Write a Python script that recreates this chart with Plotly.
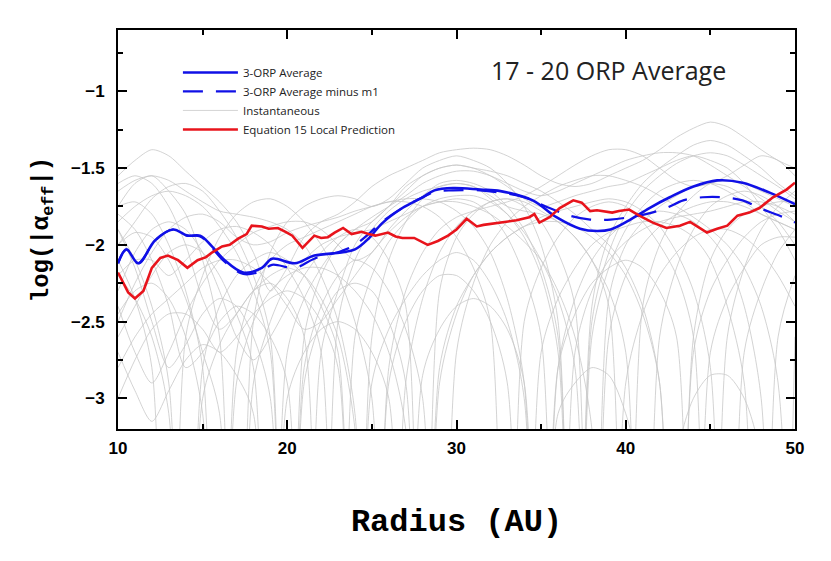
import plotly.graph_objects as go

# --- Data ---
RADIUS_GRID = list(range(10, 51))  # AU, shared grid of the instantaneous curves

# Instantaneous log|alpha_eff| curves (the -6 values are the sign-change cusps)
INST_1 = [-1.55, -1.45, -1.38, -1.42, -1.52, -1.62, -1.72, -1.85, -2.05, -2.3, -2.15, -1.95, -1.85, -1.8, -1.72, -1.62, -1.55, -1.5, -1.45, -1.4, -1.38, -1.37, -1.38, -1.42, -1.48, -1.55, -1.6, -1.62, -1.6, -1.55, -1.5, -1.45, -1.38, -1.3, -1.24, -1.2, -1.23, -1.3, -1.38, -1.45, -1.5]
INST_2 = [-1.75, -1.6, -1.55, -1.65, -1.8, -2.1, -2.6, -6, -2.5, -2.05, -1.85, -1.75, -1.7, -1.68, -1.7, -1.75, -1.7, -1.6, -1.5, -1.45, -1.42, -1.45, -1.5, -1.6, -1.75, -2.0, -2.5, -6, -2.4, -1.95, -1.75, -1.6, -1.5, -1.42, -1.35, -1.32, -1.35, -1.42, -1.5, -1.6, -1.68]
INST_3 = [-2.0, -1.85, -1.7, -1.62, -1.6, -1.65, -1.78, -1.95, -2.2, -2.6, -6, -2.6, -2.2, -2.0, -1.9, -1.85, -1.75, -1.65, -1.55, -1.5, -1.48, -1.5, -1.55, -1.62, -1.7, -1.75, -1.72, -1.68, -1.65, -1.62, -1.6, -1.55, -1.5, -1.45, -1.42, -1.45, -1.5, -1.6, -1.75, -1.9, -2.1]
INST_4 = [-1.9, -2.1, -2.4, -2.9, -6, -2.8, -2.4, -2.2, -2.1, -2.05, -2.1, -2.2, -2.4, -2.7, -6, -2.6, -2.1, -1.85, -1.7, -1.62, -1.6, -1.62, -1.7, -1.8, -1.95, -2.2, -2.7, -6, -2.6, -2.15, -1.9, -1.75, -1.65, -1.6, -1.58, -1.6, -1.65, -1.72, -1.8, -1.85, -1.9]
INST_5 = [-2.3, -2.05, -1.9, -1.85, -1.9, -2.05, -2.3, -2.6, -2.75, -2.6, -2.4, -2.2, -2.05, -1.95, -1.9, -1.95, -2.1, -2.4, -6, -2.3, -1.95, -1.8, -1.72, -1.7, -1.75, -1.85, -2.05, -2.4, -6, -2.35, -2.0, -1.85, -1.75, -1.68, -1.62, -1.6, -1.62, -1.68, -1.75, -1.85, -2.0]
INST_6 = [-1.6, -1.55, -1.6, -1.75, -2.0, -2.35, -2.55, -2.45, -2.3, -2.25, -2.35, -2.6, -6, -2.5, -2.1, -1.9, -1.78, -1.7, -1.65, -1.62, -1.6, -1.62, -1.68, -1.75, -1.78, -1.8, -1.85, -1.95, -2.1, -2.4, -6, -2.4, -2.0, -1.8, -1.68, -1.6, -1.58, -1.6, -1.65, -1.7, -1.75]
INST_7 = [-2.6, -2.4, -2.2, -2.05, -2.0, -2.05, -2.2, -2.45, -2.8, -6, -2.7, -2.35, -2.15, -2.0, -1.9, -1.82, -1.75, -1.68, -1.6, -1.55, -1.52, -1.52, -1.55, -1.6, -1.65, -1.68, -1.65, -1.6, -1.55, -1.5, -1.45, -1.42, -1.4, -1.4, -1.42, -1.48, -1.55, -1.62, -1.7, -1.78, -1.85]
INST_8 = [-1.8, -1.9, -2.1, -2.4, -2.8, -2.7, -2.5, -2.4, -2.45, -2.6, -2.9, -6, -2.7, -2.3, -2.0, -1.85, -1.75, -1.62, -1.55, -1.5, -1.48, -1.5, -1.52, -1.55, -1.6, -1.65, -1.72, -1.8, -1.9, -2.0, -2.15, -2.4, -2.9, -6, -2.6, -2.1, -1.9, -1.8, -1.75, -1.72, -1.72]
INST_9 = [-2.1, -2.35, -2.8, -6, -2.6, -2.2, -1.95, -1.8, -1.72, -1.7, -1.75, -1.85, -2.0, -2.2, -2.5, -3.0, -6, -2.9, -2.35, -2.05, -1.88, -1.78, -1.72, -1.7, -1.72, -1.78, -1.85, -1.95, -2.1, -2.3, -2.7, -6, -2.6, -2.15, -1.9, -1.75, -1.68, -1.65, -1.68, -1.75, -1.85]
INST_10 = [-2.4, -2.7, -2.9, -2.7, -2.45, -2.25, -2.1, -2.0, -1.92, -1.88, -1.85, -1.85, -1.9, -2.0, -2.1, -2.05, -1.9, -1.78, -1.68, -1.6, -1.58, -1.6, -1.65, -1.75, -1.9, -2.15, -2.6, -6, -2.5, -2.05, -1.8, -1.65, -1.55, -1.47, -1.42, -1.4, -1.42, -1.48, -1.55, -1.62, -1.7]
INST_11 = [-1.75, -1.72, -1.8, -2.0, -2.3, -2.8, -6, -2.7, -2.3, -2.1, -2.0, -1.95, -1.9, -1.85, -1.8, -1.75, -1.72, -1.72, -1.75, -1.82, -1.95, -2.15, -2.5, -6, -2.5, -2.15, -1.95, -1.82, -1.75, -1.72, -1.75, -1.85, -2.0, -2.2, -2.6, -6, -2.6, -2.15, -1.9, -1.75, -1.65]
INST_12 = [-2.8, -2.6, -2.45, -2.35, -2.25, -2.15, -2.1, -2.1, -2.15, -2.25, -2.4, -2.55, -2.5, -2.35, -2.2, -2.05, -1.92, -1.82, -1.75, -1.72, -1.72, -1.75, -1.8, -1.88, -1.98, -2.1, -2.3, -2.6, -3.2, -6, -2.9, -2.45, -2.2, -2.05, -1.95, -1.9, -1.9, -1.95, -2.05, -2.2, -2.4]
INST_13 = [-2.0, -1.92, -1.95, -2.1, -2.35, -2.7, -3.1, -6, -2.9, -2.5, -2.25, -2.1, -2.0, -1.95, -1.92, -1.9, -1.85, -1.8, -1.75, -1.72, -1.7, -1.72, -1.8, -1.95, -2.2, -2.6, -6, -2.7, -2.3, -2.1, -1.98, -1.9, -1.85, -1.82, -1.8, -1.78, -1.75, -1.72, -1.72, -1.75, -1.8]
INST_14 = [-3.0, -2.75, -2.55, -2.45, -2.45, -2.55, -2.7, -2.6, -2.45, -2.35, -2.3, -2.35, -2.5, -2.8, -6, -2.9, -2.55, -2.35, -2.2, -2.1, -2.05, -2.1, -2.25, -2.5, -3.0, -6, -2.8, -2.45, -2.25, -2.15, -2.1, -2.15, -2.3, -2.6, -6, -2.7, -2.35, -2.15, -2.0, -1.95, -1.95]
INST_15 = [-2.2, -2.1, -2.1, -2.2, -2.1, -1.98, -1.9, -1.88, -1.92, -2.0, -2.15, -2.35, -2.7, -6, -2.6, -2.2, -1.98, -1.85, -1.75, -1.7, -1.68, -1.68, -1.72, -1.8, -1.92, -2.1, -2.35, -2.8, -6, -2.6, -2.2, -2.0, -1.88, -1.8, -1.75, -1.72, -1.72, -1.75, -1.8, -1.85, -1.9]
INST_16 = [-1.9, -2.15, -2.5, -2.8, -2.65, -2.45, -2.35, -2.4, -2.6, -3.0, -6, -2.9, -2.5, -2.3, -2.25, -2.3, -2.5, -2.9, -6, -2.8, -2.4, -2.2, -2.05, -1.95, -1.88, -1.82, -1.78, -1.75, -1.72, -1.7, -1.72, -1.78, -1.88, -2.05, -2.3, -2.8, -6, -2.7, -2.3, -2.05, -1.9]
INST_17 = [-2.5, -2.25, -2.05, -1.9, -1.82, -1.8, -1.85, -1.95, -2.0, -1.98, -1.92, -1.88, -1.85, -1.82, -1.78, -1.75, -1.72, -1.7, -1.7, -1.72, -1.78, -1.88, -2.05, -2.35, -2.9, -6, -2.8, -2.35, -2.1, -1.95, -1.85, -1.8, -1.78, -1.8, -1.85, -1.95, -2.1, -2.4, -3.0, -6, -2.6]
INST_18 = [-2.2, -2.35, -2.6, -3.1, -6, -3.0, -2.65, -2.45, -2.3, -2.2, -2.15, -2.2, -2.35, -2.6, -3.2, -6, -2.9, -2.5, -2.3, -2.2, -2.2, -2.3, -2.5, -2.9, -6, -2.7, -2.35, -2.15, -2.0, -1.92, -1.88, -1.85, -1.85, -1.88, -1.95, -2.1, -2.4, -2.9, -6, -2.6, -2.2]
INST_19 = [-1.85, -1.75, -1.68, -1.65, -1.68, -1.75, -1.88, -2.05, -2.3, -2.7, -6, -2.8, -2.4, -2.2, -2.1, -2.15, -2.3, -2.55, -3.0, -6, -2.7, -2.25, -2.0, -1.85, -1.75, -1.68, -1.62, -1.58, -1.55, -1.55, -1.58, -1.62, -1.68, -1.75, -1.82, -1.9, -2.0, -2.15, -2.4, -2.9, -6]
INST_20 = [-2.7, -2.95, -3.15, -2.95, -2.75, -2.65, -2.7, -2.85, -3.1, -6, -3.0, -2.7, -2.55, -2.5, -2.55, -2.7, -3.0, -6, -2.85, -2.55, -2.4, -2.35, -2.4, -2.55, -2.9, -6, -3.1, -2.9, -2.8, -2.85, -3.1, -3.6, -6, -3.4, -3.0, -2.85, -2.85, -3.0, -3.4, -6, -3.3]
INST_21 = [-1.65, -1.58, -1.55, -1.58, -1.65, -1.72, -1.78, -1.8, -1.82, -1.85, -1.9, -2.0, -2.2, -2.5, -3.1, -6, -2.8, -2.3, -2.05, -1.9, -1.82, -1.78, -1.75, -1.72, -1.68, -1.62, -1.55, -1.48, -1.42, -1.38, -1.38, -1.42, -1.5, -1.58, -1.62, -1.6, -1.55, -1.48, -1.42, -1.45, -1.55]
INST_22 = [-2.45, -2.3, -2.25, -2.35, -2.6, -3.1, -6, -2.9, -2.5, -2.3, -2.2, -2.15, -2.15, -2.2, -2.3, -2.45, -2.7, -3.2, -6, -2.9, -2.45, -2.2, -2.05, -1.95, -1.88, -1.85, -1.85, -1.88, -1.95, -2.05, -2.2, -2.45, -2.9, -6, -2.7, -2.3, -2.1, -1.95, -1.85, -1.8, -1.78]

INSTANTANEOUS = [INST_1, INST_2, INST_3, INST_4, INST_5, INST_6, INST_7, INST_8, INST_9, INST_10, INST_11,
                 INST_12, INST_13, INST_14, INST_15, INST_16, INST_17, INST_18, INST_19, INST_20, INST_21, INST_22]

# 3-ORP average
AVG_R = [10.0, 10.5, 11.2, 12.2, 13.25, 14.1, 14.85, 15.55, 16.3, 17.4, 18.5, 19.1, 20.45, 21.6, 23.2, 24.0, 24.8,
         25.6, 26.8, 28.0, 28.7, 29.8, 31.4, 32.6, 34.5, 35.9, 37.3, 38.3, 39.1, 40.2, 41.4, 42.6, 44.0, 45.4, 46.9,
         48.5, 50.0]
AVG_LOG = [-2.12, -2.03, -2.12, -1.97, -1.90, -1.94, -1.94, -2.01, -2.10, -2.18, -2.15, -2.09, -2.12, -2.07, -2.05,
           -2.03, -1.96, -1.86, -1.76, -1.69, -1.645, -1.63, -1.64, -1.65, -1.71, -1.82, -1.895, -1.91, -1.90, -1.84,
           -1.76, -1.69, -1.62, -1.58, -1.595, -1.66, -1.735]

# 3-ORP average minus m1
AVG_M1_R = [10.0, 10.5, 11.2, 12.2, 13.25, 14.1, 14.85, 15.55, 16.3, 17.4, 18.5, 19.1, 20.45, 21.6, 23.2, 24.0, 24.8,
            25.6, 26.8, 28.0, 28.7, 29.8, 31.4, 32.6, 34.0, 35.5, 36.7, 37.9, 39.1, 40.2, 41.2, 42.4, 43.4, 44.55,
            45.7, 46.9, 47.9, 49.1, 50.0]
AVG_M1_LOG = [-2.12, -2.03, -2.12, -1.97, -1.90, -1.94, -1.945, -2.02, -2.11, -2.19, -2.17, -2.13, -2.15, -2.09,
              -2.04, -2.0, -1.93, -1.85, -1.76, -1.69, -1.655, -1.645, -1.645, -1.66, -1.69, -1.76, -1.81, -1.835,
              -1.835, -1.82, -1.80, -1.76, -1.71, -1.69, -1.69, -1.71, -1.76, -1.81, -1.855]

# Equation 15 local prediction
PRED_R = [10.0, 10.6, 11.0, 11.5, 12.0, 12.5, 12.95, 13.55, 14.1, 14.7, 15.2, 15.55, 16.15, 16.6, 17.1, 17.6, 17.9,
          18.5, 18.9, 19.45, 19.9, 20.3, 20.9, 21.6, 22.0, 22.4, 22.8, 23.3, 23.8, 24.4, 24.8, 25.2, 25.95, 26.4,
          26.8, 27.5, 28.3, 28.9, 29.5, 30.0, 30.6, 31.2, 31.6, 31.97, 32.7, 33.1, 33.55, 34.3, 34.6, 34.9, 35.5,
          36.1, 36.9, 37.4, 37.9, 38.3, 38.65, 39.2, 39.6, 40.2, 40.8, 41.6, 42.4, 43.2, 43.8, 44.4, 44.8, 45.4,
          46.0, 46.6, 47.3, 47.9, 48.7, 49.5, 50.0]
PRED_LOG = [-2.18, -2.31, -2.35, -2.30, -2.15, -2.085, -2.07, -2.10, -2.15, -2.10, -2.08, -2.05, -2.01, -2.0, -1.96,
            -1.93, -1.875, -1.88, -1.895, -1.89, -1.915, -1.94, -2.02, -1.94, -1.955, -1.95, -1.92, -1.89, -1.93,
            -1.915, -1.93, -1.94, -1.92, -1.945, -1.955, -1.955, -2.00, -1.975, -1.94, -1.90, -1.83, -1.88, -1.87,
            -1.865, -1.855, -1.85, -1.84, -1.82, -1.80, -1.855, -1.82, -1.76, -1.71, -1.725, -1.78, -1.775, -1.78,
            -1.79, -1.78, -1.77, -1.81, -1.855, -1.89, -1.875, -1.85, -1.895, -1.92, -1.895, -1.875, -1.81, -1.79,
            -1.76, -1.69, -1.64, -1.595]

# --- Style Definitions ---
BLUE = '#1010e6'
RED = '#e8141c'
GRAY = '#c8c8c8'
AXIS_COLOR = '#000000'
TICK_FONT = dict(family="Liberation Sans, Arial, sans-serif", size=17, color='#000000', weight='bold')
TITLE_FONT = dict(family="Liberation Mono, Courier New, monospace", size=32, color='#000000', weight='bold')
YTITLE_FONT = dict(family="Liberation Mono, Courier New, monospace", size=24, color='#000000', weight='bold')
LEGEND_FONT = dict(family="Open Sans, sans-serif", size=11.5, color='#222222')

fig = go.Figure()

# --- Instantaneous curves ---
for i, curve in enumerate(INSTANTANEOUS):
    fig.add_trace(go.Scatter(
        x=RADIUS_GRID, y=curve,
        mode='lines',
        line=dict(color=GRAY, width=0.8, shape='spline', smoothing=0.8),
        name='Instantaneous',
        legendgroup='inst',
        legendrank=3,
        showlegend=(i == 0),
        hoverinfo='skip'
    ))

# --- Averages and prediction ---
fig.add_trace(go.Scatter(
    x=AVG_M1_R, y=AVG_M1_LOG, mode='lines',
    line=dict(color=BLUE, width=2.2, dash='20px,13px', shape='spline'),
    name='3-ORP Average minus m1', legendrank=2
))
fig.add_trace(go.Scatter(
    x=AVG_R, y=AVG_LOG, mode='lines',
    line=dict(color=BLUE, width=2.6, shape='spline'),
    name='3-ORP Average', legendrank=1
))
fig.add_trace(go.Scatter(
    x=PRED_R, y=PRED_LOG, mode='lines',
    line=dict(color=RED, width=2.6),
    name='Equation 15 Local Prediction', legendrank=4
))

# --- Axes ---
axis_common = dict(
    showline=True, linecolor=AXIS_COLOR, linewidth=2, mirror='ticks',
    ticks='inside', ticklen=9, tickwidth=2, tickcolor=AXIS_COLOR,
    showgrid=False, zeroline=False, tickfont=TICK_FONT, automargin=False,
)
fig.update_xaxes(
    range=[10, 50], dtick=10, tick0=10, ticklabelstandoff=3,
    minor=dict(dtick=5, ticks='inside', ticklen=5, tickwidth=1.5, tickcolor=AXIS_COLOR),
    title=dict(text='Radius (AU)', font=TITLE_FONT, standoff=51),
    **axis_common
)
fig.update_yaxes(
    range=[-3.2, -0.6], dtick=0.5, tick0=-3, ticklabelstandoff=8,
    minor=dict(dtick=0.25, ticks='inside', ticklen=5, tickwidth=1.5, tickcolor=AXIS_COLOR),
    title=dict(text='log(|α<sub>eff</sub>|)', font=YTITLE_FONT, standoff=16),
    **axis_common
)

# --- Layout ---
fig.update_layout(
    width=831, height=561,
    paper_bgcolor='white', plot_bgcolor='white',
    margin=dict(l=110, r=44, t=22, b=140),
    showlegend=True,
    legend=dict(
        x=0.0885, y=0.93, xanchor='left', yanchor='top',
        bgcolor='rgba(0,0,0,0)', font=LEGEND_FONT,
        tracegroupgap=0, itemwidth=55
    ),
    annotations=[
        dict(
            text='17 - 20 ORP Average',
            xref='paper', yref='paper', x=0.725, y=0.9,
            xanchor='center', yanchor='middle', showarrow=False,
            font=dict(family="Open Sans, sans-serif", size=25, color='#222222')
        )
    ]
)

fig.write_html("out.html")
